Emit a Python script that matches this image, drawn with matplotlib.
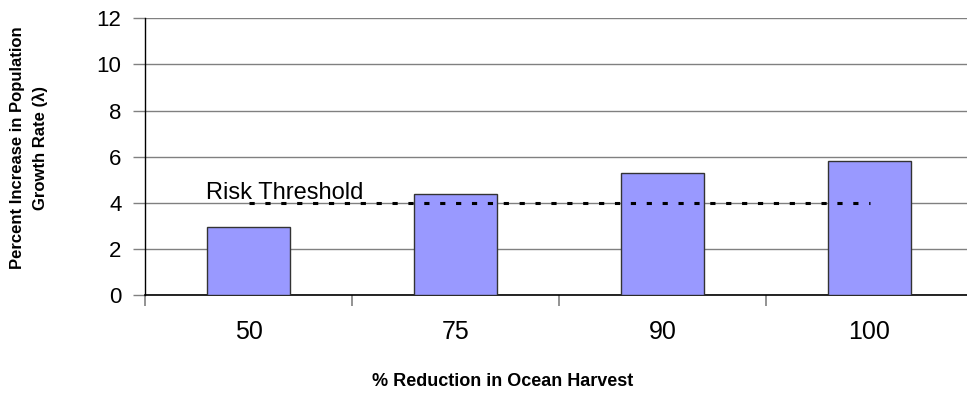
import matplotlib
matplotlib.use("Agg")
import matplotlib.pyplot as plt
import numpy as np

plt.rcParams['font.family'] = ['Liberation Sans', 'DejaVu Sans']

categories = ["50", "75", "90", "100"]
increase = [2.95, 4.4, 5.3, 5.8]
threshold = [4, 4, 4, 4]
yticks = [0, 2, 4, 6, 8, 10, 12]

W, H = 967, 394
fig = plt.figure(figsize=(W / 100, H / 100), dpi=100)
ax = fig.add_axes([145 / W, 1 - 295 / H, 828 / W, (295 - 18.3) / H])

x = np.arange(len(categories))
ax.bar(x, increase, width=0.4, color="#9999FF", edgecolor="#333333",
       linewidth=1.0, zorder=3)
ax.plot(x, threshold, color="black", linewidth=2.2, linestyle=(0, (1.7, 3.5)),
        zorder=4)
ax.text(-0.205, 4.15, "Risk Threshold", fontsize=17, va="baseline",
        ha="left", zorder=5)

ax.set_xlim(-0.5, len(categories) - 0.5)
ax.set_ylim(0, 12)
ax.set_yticks(yticks)
ax.set_yticklabels([str(t) for t in yticks], fontsize=16)
ax.yaxis.grid(True, color="#808080", linewidth=1.0, zorder=0)
ax.set_axisbelow(True)

# category labels centred, tick marks at category boundaries
ax.set_xticks(x)
ax.set_xticklabels(categories, fontsize=18)
ax.tick_params(axis="x", length=0, pad=18)
ax.set_xticks(np.arange(len(categories) + 1) - 0.5, minor=True)
ax.tick_params(axis="x", which="minor", length=8, width=1.2, color="#808080")
ax.tick_params(axis="y", length=9, width=1.0, color="#808080", pad=8)

for side in ("top", "right"):
    ax.spines[side].set_visible(False)
ax.spines["left"].set_color("black")
ax.spines["bottom"].set_color("black")
ax.spines["left"].set_linewidth(1.0)
ax.spines["bottom"].set_linewidth(1.2)

fig.text(503 / W, 1 - 381 / H, "% Reduction in Ocean Harvest",
         fontsize=13, fontweight="bold", ha="center", va="center")
fig.text(29 / W, 1 - 148 / H, "Percent Increase in Population\nGrowth Rate (λ)",
         fontsize=12, fontweight="bold", ha="center", va="center",
         rotation=90, linespacing=1.6)

fig.savefig("out.png", dpi=100)
